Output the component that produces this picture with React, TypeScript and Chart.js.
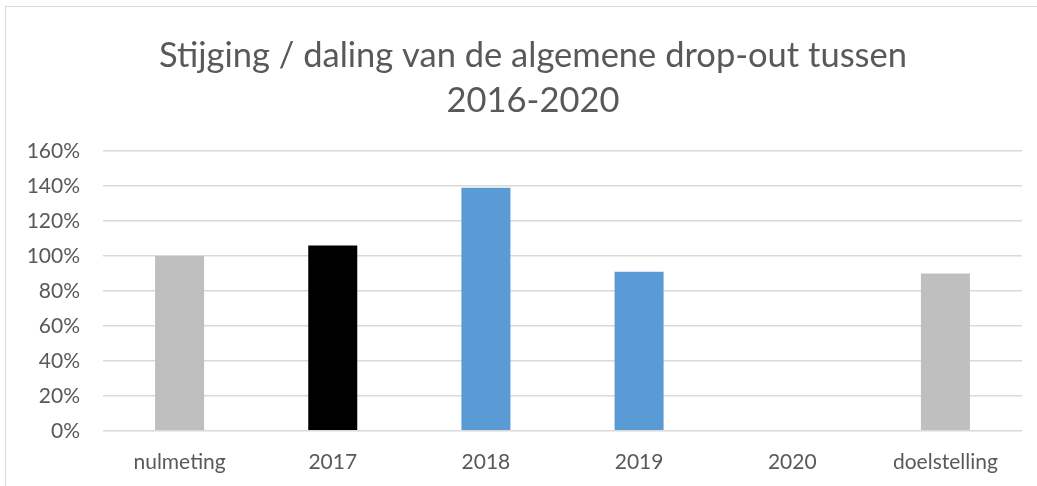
import React, { useEffect, useRef } from "react";
import { Chart, registerables } from "chart.js";

Chart.register(...registerables);

const titleLines = ["Stijging / daling van de algemene drop-out tussen", "2016-2020"];
const categories = ["nulmeting", "2017", "2018", "2019", "2020", "doelstelling"];
const values: (number | null)[] = [100, 106, 139, 91, null, 90];
const barColors = ["#BFBFBF", "#000000", "#5B9BD5", "#5B9BD5", "#5B9BD5", "#BFBFBF"];
const yTicks = [0, 20, 40, 60, 80, 100, 120, 140, 160];

const FONT = "Lato, 'Open Sans', sans-serif";
const TEXT = "#595959";
const GRID = "#d9d9d9";

export default function App() {
  const ref = useRef<HTMLCanvasElement | null>(null);
  useEffect(() => {
    if (!ref.current) return;
    const chart = new Chart(ref.current, {
      type: "bar",
      data: {
        labels: categories,
        datasets: [
          {
            data: values,
            backgroundColor: barColors,
            borderWidth: 0,
            categoryPercentage: 1,
            barPercentage: 0.32,
          },
        ],
      },
      options: {
        responsive: false,
        animation: false,
        devicePixelRatio: 1,
        layout: { padding: { left: 0, right: 0, top: 0, bottom: 12 } },
        plugins: {
          legend: { display: false },
          tooltip: { enabled: false },
          title: {
            display: true,
            text: titleLines,
            color: TEXT,
            font: { family: FONT, size: 34.5, weight: "normal", lineHeight: 1.305 },
            padding: { top: 26, bottom: 28 },
          },
        },
        scales: {
          x: {
            grid: { display: false, drawTicks: false },
            border: { display: false },
            ticks: {
              color: TEXT,
              font: { family: FONT, size: 21 },
              padding: 19,
              maxRotation: 0,
            },
          },
          y: {
            min: 0,
            max: 160,
            afterFit: (scale: any) => {
              scale.width = 97;
            },
            afterBuildTicks: (scale: any) => {
              scale.ticks = yTicks.map((v) => ({ value: v }));
            },
            grid: { color: GRID, lineWidth: 1.5, drawTicks: false },
            border: { display: false },
            ticks: {
              color: TEXT,
              font: { family: FONT, size: 21 },
              padding: 23,
              callback: (v: any) => `${v}%`,
            },
          },
          ySpacer: {
            position: "right",
            min: 0,
            max: 160,
            grid: { display: false, drawTicks: false },
            border: { display: false },
            ticks: { display: false },
            afterFit: (scale: any) => {
              scale.width = 38;
            },
          },
        },
      },
    });
    return () => chart.destroy();
  }, []);

  return (
    <div
      style={{
        position: "fixed",
        left: 0,
        top: 0,
        width: 1037,
        height: 486,
        overflow: "hidden",
        background: "#fff",
      }}
    >
      <div
        style={{
          position: "absolute",
          left: 5,
          top: 6,
          width: 1055,
          height: 501,
          borderLeft: `1px solid ${GRID}`,
          borderTop: `1px solid ${GRID}`,
          boxSizing: "border-box",
        }}
      >
        <canvas ref={ref} width={1054} height={499} style={{ display: "block", width: 1054, height: 499 }} />
      </div>
    </div>
  );
}
